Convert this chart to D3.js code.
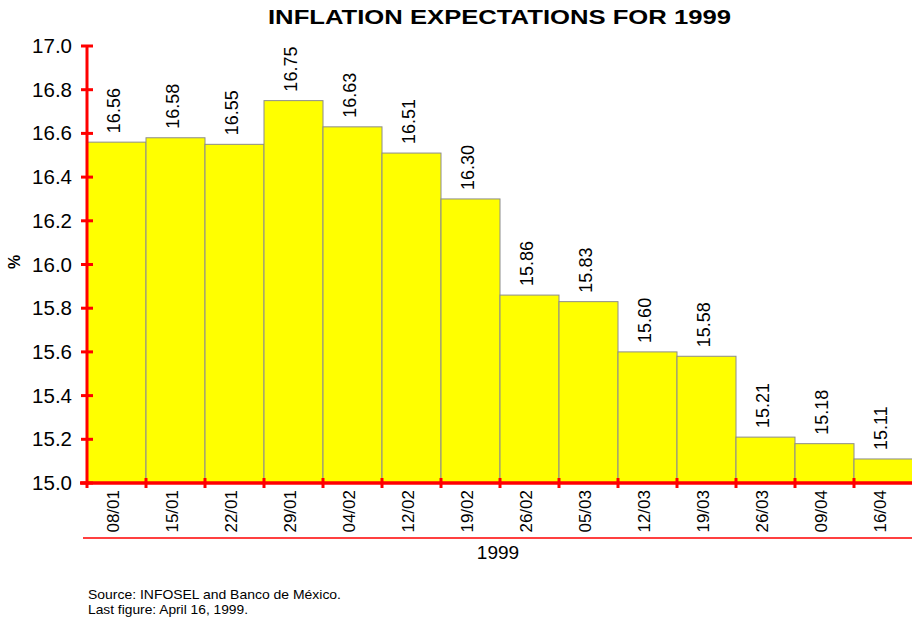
<!DOCTYPE html>
<html>
<head>
<meta charset="utf-8">
<script src="https://cdn.jsdelivr.net/npm/d3@7"></script>
<style>
  body { margin: 0; background: #fff; }
  text { font-family: Arial, "Liberation Sans", sans-serif; fill: #000; }
</style>
</head>
<body>
<div id="chart"></div>
<script>
// data
const dates = ['08/01','15/01','22/01','29/01','04/02','12/02','19/02','26/02','05/03','12/03','19/03','26/03','09/04','16/04']
const values = [16.56,16.58,16.55,16.75,16.63,16.51,16.30,15.86,15.83,15.60,15.58,15.21,15.18,15.11]
const yTicks = [15.0,15.2,15.4,15.6,15.8,16.0,16.2,16.4,16.6,16.8,17.0]

const width = 912, height = 619
const margin = { top: 46, right: -1, bottom: 136, left: 87 }
const chartWidth = width - margin.left - margin.right
const chartHeight = height - margin.top - margin.bottom

const svg = d3.select('#chart').append('svg')
  .attr('width', width)
  .attr('height', height)

const g = svg.append('g')
  .attr('transform', 'translate(' + margin.left + ',' + margin.top + ')')

const x = d3.scaleBand()
  .domain(dates)
  .range([0, chartWidth])
  .padding(0)

const y = d3.scaleLinear()
  .domain([15, 17])
  .range([chartHeight, 0])

// bars
g.selectAll('rect.bar')
  .data(values)
  .enter().append('rect')
  .attr('class', 'bar')
  .attr('x', (d, i) => x(dates[i]))
  .attr('y', d => y(d))
  .attr('width', x.bandwidth())
  .attr('height', d => chartHeight - y(d))
  .attr('fill', '#ffff00')
  .attr('stroke', '#8c8c8c')
  .attr('stroke-width', 1)

// value labels, rotated
g.selectAll('text.val')
  .data(values)
  .enter().append('text')
  .attr('class', 'val')
  .attr('transform', (d, i) => 'translate(' + (x(dates[i]) + x.bandwidth() / 2 - 3) + ',' + (y(d) - 9) + ') rotate(-90)')
  .attr('dy', '0.35em')
  .style('font-size', '18px')
  .text(d => d.toFixed(2))

// y axis
const yAxis = g.append('g')
  .call(d3.axisLeft(y).tickValues(yTicks).tickFormat(d3.format('.1f')).tickSize(0).tickPadding(15))
yAxis.select('.domain').remove()
yAxis.selectAll('text').style('font-size', '20.5px')
g.selectAll('line.ytick')
  .data(yTicks)
  .enter().append('line')
  .attr('class', 'ytick')
  .attr('x1', -6).attr('x2', 6)
  .attr('y1', d => y(d)).attr('y2', d => y(d))
  .attr('stroke', '#ff0000').attr('stroke-width', 3)
g.append('line')
  .attr('x1', 0).attr('x2', 0)
  .attr('y1', 0).attr('y2', chartHeight + 5)
  .attr('stroke', '#ff0000').attr('stroke-width', 3)

// x axis
g.append('line')
  .attr('x1', -7).attr('x2', chartWidth)
  .attr('y1', chartHeight).attr('y2', chartHeight)
  .attr('stroke', '#ff0000').attr('stroke-width', 3.5)
g.selectAll('line.xtick')
  .data(dates.slice(1))
  .enter().append('line')
  .attr('class', 'xtick')
  .attr('x1', d => x(d)).attr('x2', d => x(d))
  .attr('y1', chartHeight - 5).attr('y2', chartHeight + 5)
  .attr('stroke', '#ff0000').attr('stroke-width', 3)

g.selectAll('text.xlab')
  .data(dates)
  .enter().append('text')
  .attr('class', 'xlab')
  .attr('transform', d => 'translate(' + (x(d) + x.bandwidth() / 2 - 3) + ',' + (chartHeight + 7) + ') rotate(-90)')
  .attr('dy', '0.35em')
  .style('text-anchor', 'end')
  .style('font-size', '17px')
  .text(d => d)

g.append('line')
  .attr('x1', -4).attr('x2', chartWidth)
  .attr('y1', chartHeight + 55).attr('y2', chartHeight + 55)
  .attr('stroke', '#ff0000').attr('stroke-width', 1.5)

g.append('text')
  .attr('x', chartWidth / 2 - 2)
  .attr('y', chartHeight + 76)
  .style('text-anchor', 'middle')
  .style('font-size', '19px')
  .text('1999')

// y label
svg.append('text')
  .attr('transform', 'translate(20,262) rotate(-90)')
  .style('text-anchor', 'middle')
  .style('font-size', '16px')
  .style('font-weight', 'bold')
  .text('%')

// title
svg.append('text')
  .attr('x', 268)
  .attr('y', 24)
  .attr('textLength', 463)
  .attr('lengthAdjust', 'spacingAndGlyphs')
  .style('font-size', '21px')
  .style('font-weight', 'bold')
  .text('INFLATION EXPECTATIONS FOR 1999')

// footer
svg.append('text')
  .attr('x', 88).attr('y', 599)
  .attr('textLength', 253)
  .attr('lengthAdjust', 'spacingAndGlyphs')
  .style('font-size', '13px')
  .text('Source: INFOSEL and Banco de México.')
svg.append('text')
  .attr('x', 88).attr('y', 614)
  .attr('textLength', 160)
  .attr('lengthAdjust', 'spacingAndGlyphs')
  .style('font-size', '13px')
  .text('Last figure: April 16, 1999.')
</script>
</body>
</html>
